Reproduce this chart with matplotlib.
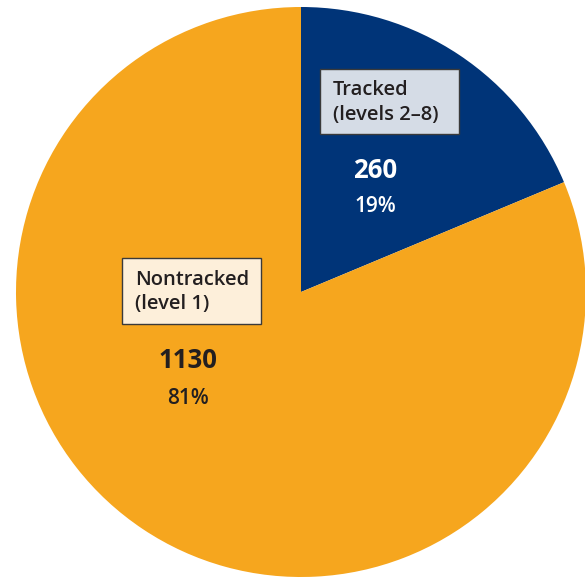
import matplotlib.pyplot as plt
from matplotlib.patches import Rectangle

categories = ["Tracked\n(levels 2\u20138)", "Nontracked\n(level 1)"]
counts = [260, 1130]
colors = ["#003478", "#F6A61E"]
box_colors = ["#D5DCE6", "#FDEFDA"]
value_colors = ["white", "#231F20"]

plt.rcParams["font.family"] = ["Open Sans", "DejaVu Sans"]

fig = plt.figure(figsize=(5.85, 5.80), dpi=100)
ax = fig.add_axes([0, 0, 1, 1])
ax.axis("off")

# y axis runs downward (pixel-like coordinates), so start at -90 and go
# counterclockwise in data space, which reads clockwise from the top
ax.pie(
    counts,
    colors=colors,
    startangle=-90,
    counterclock=True,
    center=(301, 292),
    radius=285,
    wedgeprops={"linewidth": 0},
)
ax.set_xlim(0, 585)
ax.set_ylim(580, 0)
ax.set_aspect("auto")

total = sum(counts)
# label boxes (left, top, width, height) and value centres
boxes = [(320, 69, 139, 65), (122, 258, 139, 66)]
value_pos = [(375, 170), (188, 361)]

for i, name in enumerate(categories):
    bx, by, bw, bh = boxes[i]
    ax.add_patch(Rectangle((bx, by), bw, bh, facecolor=box_colors[i],
                           edgecolor="#3a3a3a", linewidth=1.0, zorder=3))
    ax.text(bx + 13, by + bh / 2 + 1, name, fontsize=14.5, fontweight="semibold",
            color="#231F20", ha="left", va="center", linespacing=1.3, zorder=4)
    vx, vy = value_pos[i]
    ax.text(vx, vy, f"{counts[i]}", fontsize=18.5, fontweight="bold",
            color=value_colors[i], ha="center", va="center")
    ax.text(vx, vy + 37, f"{round(100 * counts[i] / total)}%", fontsize=15,
            fontweight="semibold", color=value_colors[i], ha="center", va="center")

fig.savefig("out.png", dpi=100)
